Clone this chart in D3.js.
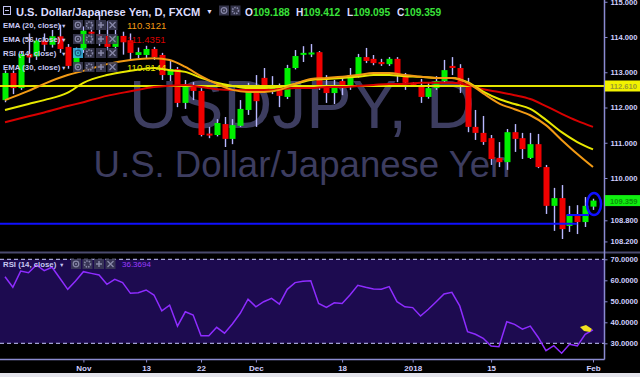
<!DOCTYPE html>
<html><head><meta charset="utf-8">
<script src="https://cdn.jsdelivr.net/npm/d3@7/dist/d3.min.js"></script>
<style>
html,body{margin:0;padding:0;background:#000;}
svg{display:block;}
text{font-family:"Liberation Sans",Arial,sans-serif;}
</style></head><body>
<svg id="chart" width="640" height="377"></svg>
<script>
// ---------- DATA ----------
const dates = [
"2017-10-18","2017-10-19","2017-10-20","2017-10-23","2017-10-24","2017-10-25","2017-10-26","2017-10-27","2017-10-30","2017-10-31",
"2017-11-01","2017-11-02","2017-11-03","2017-11-06","2017-11-07","2017-11-08","2017-11-09","2017-11-10","2017-11-13","2017-11-14",
"2017-11-15","2017-11-16","2017-11-17","2017-11-20","2017-11-21","2017-11-22","2017-11-23","2017-11-24","2017-11-27","2017-11-28",
"2017-11-29","2017-11-30","2017-12-01","2017-12-04","2017-12-05","2017-12-06","2017-12-07","2017-12-08","2017-12-11","2017-12-12",
"2017-12-13","2017-12-14","2017-12-15","2017-12-18","2017-12-19","2017-12-20","2017-12-21","2017-12-22","2017-12-26","2017-12-27",
"2017-12-28","2017-12-29","2018-01-01","2018-01-02","2018-01-03","2018-01-04","2018-01-05","2018-01-08","2018-01-09","2018-01-10",
"2018-01-11","2018-01-12","2018-01-15","2018-01-16","2018-01-17","2018-01-18","2018-01-19","2018-01-22","2018-01-23","2018-01-24",
"2018-01-25","2018-01-26","2018-01-29","2018-01-30","2018-01-31","2018-02-01"];

const openP  = [112.21,112.98,112.55,113.52,113.45,113.90,113.78,114.02,113.72,113.18,
113.63,114.15,114.08,114.03,113.72,114.03,113.91,113.49,113.49,113.66,
113.49,112.92,113.09,112.13,112.61,112.47,111.26,111.22,111.53,111.11,
111.48,111.93,112.55,112.84,112.44,112.61,112.30,113.12,113.53,113.53,
113.57,112.58,112.41,112.75,112.58,112.89,113.43,113.38,113.29,113.23,
113.38,112.89,112.70,112.64,112.30,112.55,112.75,113.18,113.12,112.70,
111.45,111.28,111.13,110.57,110.45,111.30,111.13,110.57,110.96,110.31,
109.21,109.43,108.64,108.95,108.75,109.188];
const highP  = [113.05,113.05,113.60,114.10,113.98,114.10,114.20,114.35,113.80,113.70,
114.30,114.43,114.73,114.45,114.20,114.15,114.10,113.70,113.75,113.72,
113.55,113.35,113.15,112.78,112.72,112.55,111.45,111.67,111.73,111.67,
112.21,112.70,112.92,113.12,112.89,112.68,113.21,113.63,113.74,113.80,
113.60,112.92,112.78,112.87,113.12,113.52,113.69,113.49,113.38,113.43,
113.43,112.98,112.72,112.81,112.70,112.89,113.35,113.43,113.23,112.84,
111.93,111.76,111.22,111.02,111.39,111.53,111.28,111.28,111.25,110.37,
109.72,109.80,109.21,109.23,109.46,109.412];
const lowP   = [112.15,112.38,112.50,113.26,113.35,113.60,113.70,113.55,113.10,113.10,
113.55,113.80,113.75,113.62,113.60,113.50,113.35,113.40,113.40,113.35,
112.78,112.75,112.01,111.96,112.21,111.18,111.13,111.18,110.88,110.96,
111.45,111.79,111.45,112.42,112.38,112.01,112.24,113.08,113.29,113.43,
112.50,112.13,112.10,112.35,112.50,112.85,113.26,113.20,113.18,113.18,
112.72,112.50,112.60,112.13,112.25,112.50,112.70,112.92,112.41,111.30,
111.08,110.94,110.37,110.31,110.23,110.74,110.54,110.54,110.28,108.98,
108.50,108.27,108.47,108.41,108.61,109.095];
const closeP = [112.98,112.55,113.52,113.42,113.90,113.78,114.02,113.66,113.18,113.57,
114.18,114.10,114.03,113.72,114.03,113.85,113.55,113.57,113.66,113.43,
112.92,113.09,112.13,112.64,112.47,111.22,111.24,111.56,111.11,111.50,
111.96,112.55,112.18,112.44,112.64,112.33,113.12,113.46,113.55,113.56,
112.58,112.41,112.61,112.55,112.92,113.43,113.32,113.26,113.23,113.38,
112.92,112.70,112.64,112.30,112.55,112.75,113.06,113.12,112.70,111.45,
111.28,111.02,110.54,110.45,111.30,111.11,110.82,110.96,110.31,109.21,
109.43,108.55,108.95,108.75,109.21,109.359];

// moving averages at selected bars
const emaBars = [0,3,5,8,10,13,16,19,21,23,25,27,29,31,33,35,37,39,41,43,45,47,49,51,53,55,57,59,61,63,65,67,69,71,73,75];
const ema20 = [112.21,112.47,112.67,112.92,113.04,113.23,113.35,113.40,113.35,113.15,112.89,112.67,112.50,112.44,112.44,112.50,112.67,112.81,112.84,112.87,112.92,112.98,112.98,112.92,112.87,112.84,112.84,112.70,112.40,112.12,111.95,111.78,111.50,111.08,110.68,110.31];
const ema30 = [111.93,112.10,112.21,112.42,112.70,112.92,113.04,113.12,113.06,113.01,112.84,112.70,112.61,112.55,112.55,112.58,112.67,112.78,112.81,112.84,112.87,112.92,112.92,112.89,112.87,112.84,112.84,112.72,112.45,112.24,112.10,111.96,111.65,111.30,111.02,110.81];
const ema56 = [111.58,111.75,111.86,112.04,112.15,112.33,112.46,112.58,112.62,112.64,112.58,112.52,112.50,112.50,112.50,112.52,112.55,112.55,112.58,112.58,112.61,112.64,112.67,112.67,112.70,112.70,112.70,112.64,112.52,112.44,112.35,112.24,112.04,111.82,111.62,111.45];

const rsi = [61.7,56.7,64.4,63.6,67.3,64.6,66.2,61.0,55.7,59.7,
64.1,63.3,62.5,58.1,60.5,58.9,53.8,54.1,55.4,53.0,
45.5,48.2,38.2,45.0,43.5,33.6,33.6,37.6,34.8,39.2,
44.3,51.0,47.4,49.8,51.4,48.7,55.7,58.9,59.5,59.8,
49.0,47.1,49.3,49.0,53.0,57.6,56.7,55.9,55.7,57.0,
49.8,47.4,47.0,43.0,46.2,49.8,53.5,54.3,47.8,35.5,
34.3,32.4,28.7,28.4,40.3,39.0,36.7,38.2,32.9,26.5,
28.9,25.3,29.5,28.8,34.3,36.37];

const levelLine = 112.61;      // horizontal yellow line
const supportLine = 108.70;    // horizontal blue line
const priceTicks = [115, 114, 113, 112, 111, 110, 108.8, 108.2];
const rsiTicks = [70, 60, 50, 40, 30];
const rsiBands = [70, 30];
const tickDates = ["2017-11-01","2017-11-13","2017-11-22","2017-12-01","2017-12-18","2018-01-01","2018-01-15","2018-02-01"];
const tickLabels = ["Nov","13","22","Dec","18","2018","15","Feb"];
const legendRows = [
  {label:"EMA (20, close)", value:"110.3121", color:"#f29a14"},
  {label:"EMA (56, close)", value:"111.4351", color:"#d80000"},
  {label:"RSI (14, close)", value:"", color:"#000"},
  {label:"EMA (30, close)", value:"110.8144", color:"#e8e800"}
];
const lastOHLC = {O:"109.188", H:"109.412", L:"109.095", C:"109.359"};

// ---------- CHART ----------
const svg = d3.select("#chart");
const W = 640, H = 377, plotR = 604, mainB = 252, axisY = 359.5;
const lav = "#8a8ad0";

svg.append("rect").attr("width",W).attr("height",H).attr("fill","#000");
svg.append("rect").attr("x",0).attr("y",373).attr("width",W).attr("height",4).attr("fill","#e4e4ec");

const x = d3.scalePoint().domain(dates).range([5, 593]);
const y = d3.scaleLinear().domain([108, 115]).range([248.5, 1.75]);
const yR = d3.scaleLinear().domain([30, 70]).range([343.3, 259.3]);

svg.append("clipPath").attr("id","mainClip").append("rect").attr("x",0).attr("y",0).attr("width",plotR).attr("height",mainB);
const main = svg.append("g").attr("clip-path","url(#mainClip)");

// watermark
main.append("text").attr("x",302).attr("y",128).attr("text-anchor","middle")
  .attr("font-size",68).attr("fill","#3d3d60").text("USDJPY, D");
main.append("text").attr("x",302).attr("y",177).attr("text-anchor","middle")
  .attr("font-size",36.6).attr("fill","#3d3d60").text("U.S. Dollar/Japanese Yen");

// candles
const cx = i => Math.round(x(dates[i]));
const idx = d3.range(dates.length);
main.append("g").selectAll("line").data(idx).join("line")
  .attr("x1",i=>cx(i)+0.5).attr("x2",i=>cx(i)+0.5)
  .attr("y1",i=>y(highP[i])).attr("y2",i=>y(lowP[i]))
  .attr("stroke","#b8b8ff").attr("stroke-width",1.4);
main.append("g").selectAll("rect").data(idx).join("rect")
  .attr("x",i=>cx(i)-2.5).attr("width",6)
  .attr("y",i=>y(Math.max(openP[i],closeP[i])))
  .attr("height",i=>Math.max(2, Math.abs(y(openP[i])-y(closeP[i]))))
  .attr("fill",i=>closeP[i]>=openP[i]?"#00f000":"#f00000");

// horizontal lines
main.append("line").attr("x1",0).attr("x2",plotR).attr("y1",y(levelLine)).attr("y2",y(levelLine))
  .attr("stroke","#e6e600").attr("stroke-width",2);
main.append("line").attr("x1",0).attr("x2",x(dates[73])).attr("y1",y(supportLine)).attr("y2",y(supportLine))
  .attr("stroke","#1010ff").attr("stroke-width",2);

// EMAs
const emaLine = vals => d3.line().x((d,k)=>x(dates[emaBars[k]])).y(d=>y(d)).curve(d3.curveMonotoneX)(vals);
[[ema56,"#d80000"],[ema30,"#e8e800"],[ema20,"#f29a14"]].forEach(([v,c])=>{
  main.append("path").attr("d",emaLine(v)).attr("fill","none").attr("stroke",c).attr("stroke-width",2);
});

// annotation ellipse around last candle
const last = dates.length-1;
main.append("line").attr("x1",x(dates[72])-3).attr("x2",x(dates[last])-4)
  .attr("y1",y(108.95)).attr("y2",y(108.95)).attr("stroke","#1010ff").attr("stroke-width",2);
main.append("ellipse").attr("cx",x(dates[last])+1).attr("cy",y(109.26)).attr("rx",7).attr("ry",11)
  .attr("fill","none").attr("stroke","#1010ff").attr("stroke-width",2.5);

// separator
svg.append("line").attr("x1",0).attr("x2",W).attr("y1",252.5).attr("y2",252.5).attr("stroke","#4a4a6e").attr("stroke-width",2);

// RSI panel
svg.append("rect").attr("x",0).attr("width",plotR).attr("y",yR(70)).attr("height",yR(30)-yR(70)).attr("fill","#1d0b50");
svg.append("g").selectAll("line").data(rsiBands).join("line")
  .attr("x1",0).attr("x2",plotR).attr("y1",d=>yR(d)).attr("y2",d=>yR(d))
  .attr("stroke","#c8c8ff").attr("stroke-width",1).attr("stroke-dasharray","4,3");
svg.append("path").attr("d", d3.line().x((d,i)=>x(dates[i])).y(d=>yR(d))(rsi))
  .attr("fill","none").attr("stroke","#8e2cff").attr("stroke-width",1.5);
// cursor marker
const lx = x(dates[last]), ly = yR(rsi[last]);
svg.append("path").attr("d",`M${lx-13},${ly-3} L${lx-7},${ly-5} L${lx-1},${ly-1} L${lx-3},${ly+2} L${lx-9},${ly+1} Z`).attr("fill","#f0e020");

// axes
const styleAxis = g => {
  g.select(".domain").remove();
  g.selectAll(".tick line").attr("stroke",lav);
  g.selectAll(".tick text").attr("fill","#d0d0ff").attr("font-weight","bold").attr("font-family","Liberation Sans, Arial, sans-serif");
};
svg.append("g").attr("transform",`translate(${plotR+0.5},0)`)
  .call(d3.axisRight(y).tickValues(priceTicks).tickFormat(d3.format(".3f")).tickSize(3).tickPadding(3))
  .call(styleAxis).selectAll("text").attr("font-size",7.6);
svg.append("g").attr("transform",`translate(${plotR+0.5},0)`)
  .call(d3.axisRight(yR).tickValues(rsiTicks).tickFormat(d3.format(".4f")).tickSize(3).tickPadding(3))
  .call(styleAxis).selectAll("text").attr("font-size",7.6);
svg.append("g").attr("transform",`translate(0,${axisY})`)
  .call(d3.axisBottom(x).tickValues(tickDates).tickFormat((d,i)=>tickLabels[i]).tickSize(3).tickPadding(3))
  .call(styleAxis).selectAll("text").attr("font-size",8);
svg.append("line").attr("x1",plotR+0.5).attr("x2",plotR+0.5).attr("y1",0).attr("y2",axisY).attr("stroke",lav).attr("stroke-width",1.5);
svg.append("line").attr("x1",0).attr("x2",plotR+0.5).attr("y1",axisY).attr("y2",axisY).attr("stroke",lav).attr("stroke-width",1.5);

// price boxes on axis
const box = (val, txt, fill, tcol) => {
  const g = svg.append("g");
  g.append("rect").attr("x",plotR+1).attr("y",y(val)-5.5).attr("width",W-plotR).attr("height",11).attr("fill",fill);
  g.append("text").attr("x",plotR+6).attr("y",y(val)+3).attr("font-size",7.6).attr("font-weight","bold").attr("fill",tcol).text(txt);
};
box(levelLine, "112.610", "#f2f200", "#9a9a30");
box(closeP[last], "109.359", "#10f010", "#0a900a");

// icons helper
function icons(x0, yc, n, hl){
  const g = svg.append("g");
  for(let k=0;k<n;k++){
    const bx = x0 + k*11.5;
    g.append("rect").attr("x",bx).attr("y",yc-5).attr("width",10).attr("height",10)
      .attr("fill", hl && k===0 ? "#38b8ea" : "#3c3c56").attr("opacity",0.85);
    const c = hl && k===0 ? "#1a5a80" : "#8888a8";
    const mx = bx+5, my = yc;
    if(k===0){ g.append("circle").attr("cx",mx).attr("cy",my).attr("r",2.8).attr("fill","none").attr("stroke",c).attr("stroke-width",1.2);
               g.append("circle").attr("cx",mx).attr("cy",my).attr("r",1).attr("fill",c); }
    if(k===1){ g.append("circle").attr("cx",mx).attr("cy",my).attr("r",3).attr("fill","none").attr("stroke",c).attr("stroke-width",1.6).attr("stroke-dasharray","1.5,1"); }
    if(k===2){ g.append("path").attr("d",`M${mx-3},${my}H${mx+3}M${mx},${my-3}V${my+3}`).attr("stroke",c).attr("stroke-width",1.5); }
    if(k===3){ g.append("path").attr("d",`M${mx-3},${my-3}L${mx+3},${my+3}M${mx+3},${my-3}L${mx-3},${my+3}`).attr("stroke",c).attr("stroke-width",1.3); }
  }
}

// header
svg.append("rect").attr("x",3.5).attr("y",6.5).attr("width",7).attr("height",8).attr("fill","none").attr("stroke","#c0c0ee");
svg.append("line").attr("x1",5).attr("x2",9).attr("y1",10.5).attr("y2",10.5).attr("stroke","#c0c0ee");
svg.append("text").attr("x",16).attr("y",15.5).attr("font-size",11.1).attr("font-weight","bold").attr("fill","#dcdcff")
  .text("U.S. Dollar/Japanese Yen, D, FXCM");
svg.append("text").attr("x",206).attr("y",14).attr("font-size",7).attr("fill","#dcdcff").text("▼");
icons(219, 10.5, 2, false);
[["O",245],["H",296],["L",347],["C",397]].forEach(([k,lx0])=>{
  const t = svg.append("text").attr("x",lx0).attr("y",15.5).attr("font-size",10.2).attr("font-weight","bold");
  t.append("tspan").attr("fill","#dcdcff").text(k);
  t.append("tspan").attr("fill","#3ae23a").text(lastOHLC[k]);
});

// legend rows
legendRows.forEach((r,k)=>{
  const yc = 25 + k*14;
  svg.append("text").attr("x",3).attr("y",yc+3).attr("font-size",7.8).attr("font-weight","bold").attr("fill","#c8c8f2").text(r.label);
  svg.append("text").attr("x",61).attr("y",yc+2.5).attr("font-size",5.5).attr("fill","#c8c8f2").text("▼");
  icons(73, yc, 4, k===2);
  if(r.value) svg.append("text").attr("x",127).attr("y",yc+3.5).attr("font-size",9.6).attr("fill",r.color).text(r.value);
});

// RSI legend
svg.append("text").attr("x",3).attr("y",267).attr("font-size",7.8).attr("font-weight","bold").attr("fill","#c8c8f2").text("RSI (14, close)");
svg.append("text").attr("x",59).attr("y",266.5).attr("font-size",5.5).attr("fill","#c8c8f2").text("▼");
icons(71, 264, 4, false);
svg.append("text").attr("x",122).attr("y",267).attr("font-size",8).attr("fill","#9b3cff").text(d3.format(".4f")(36.3694));
</script>
</body></html>
